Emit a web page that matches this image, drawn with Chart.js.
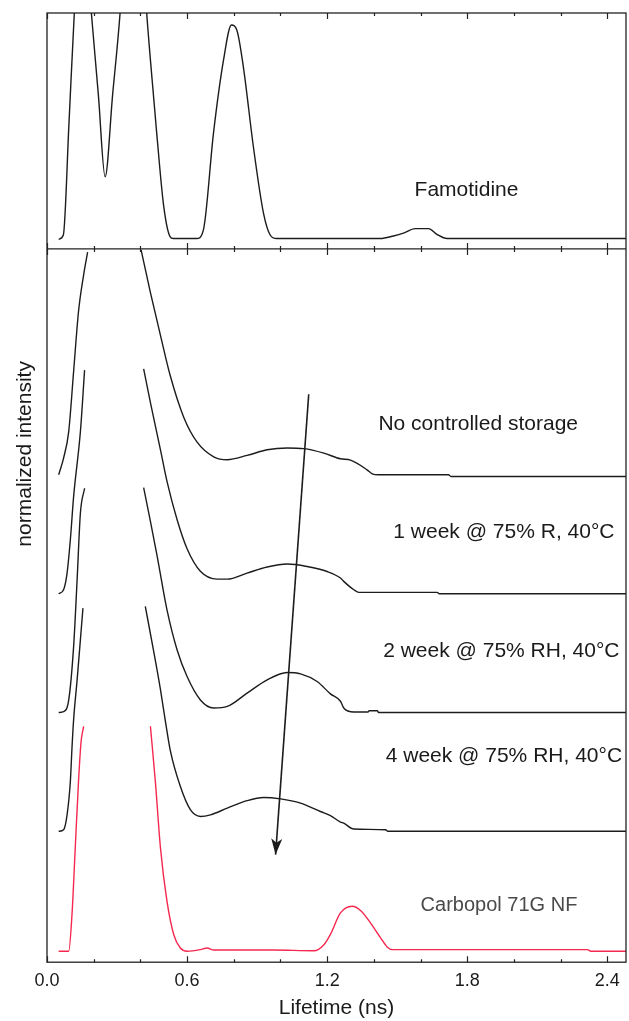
<!DOCTYPE html>
<html>
<head>
<meta charset="utf-8">
<title>Positron lifetime distributions</title>
<script src="https://cdn.jsdelivr.net/npm/chart.js@4.4.1/dist/chart.umd.min.js"></script>
<style>
  html, body { margin: 0; padding: 0; background: #fff; }
  canvas { display: block; }
</style>
</head>
<body>
<canvas id="lifetimeChart" width="629" height="1021"></canvas>
<script>
// lifetime axis (ns)
const lifetimeTicks = [0.0, 0.6, 1.2, 1.8, 2.4];
const minorTicks = [0.2, 0.4, 0.8, 1.0, 1.4, 1.6, 2.0, 2.2];

// top panel: Famotidine (peaks run past the frame)
const famLifetime = [0.05, 0.07, 0.094, 0.117, 0.15, 0.19, 0.22, 0.249, 0.281, 0.313, 0.37, 0.427, 0.45, 0.47, 0.50, 0.527, 0.541, 0.641, 0.67, 0.713, 0.756, 0.79, 0.813, 0.841, 0.884, 0.927, 0.956, 0.984, 1.427, 1.484, 1.527, 1.577, 1.634, 1.67, 1.713, 2.48];
const famIntensity = [0.041, 0.059, 0.53, 1.0, 1.5, 1.0, 0.653, 0.306, 0.653, 1.0, 1.9, 1.0, 0.72, 0.49, 0.18, 0.052, 0.044, 0.044, 0.081, 0.49, 0.80, 0.949, 0.928, 0.772, 0.433, 0.153, 0.059, 0.044, 0.044, 0.055, 0.067, 0.086, 0.086, 0.062, 0.044, 0.044];

// bottom panel, each curve relative to its own baseline (cut where it leaves the band)
const noStorageLifetime = [0.05, 0.071, 0.093, 0.114, 0.135, 0.157, 0.174, 0.29, 0.403, 0.443, 0.486, 0.528, 0.586, 0.643, 0.714, 0.772, 0.857, 0.943, 1.029, 1.10, 1.186, 1.257, 1.30, 1.371, 1.393, 1.42, 1.72, 1.73, 2.48];
const noStorageIntensity = [0, 0.074, 0.192, 0.459, 0.726, 0.889, 0.99, null, 1.0, 0.81, 0.62, 0.44, 0.255, 0.145, 0.08, 0.067, 0.086, 0.111, 0.119, 0.116, 0.096, 0.071, 0.065, 0.022, 0.004, 0, 0, -0.008, -0.008];

const week1Lifetime = [0.05, 0.071, 0.086, 0.10, 0.114, 0.143, 0.161, 0.29, 0.414, 0.443, 0.486, 0.514, 0.557, 0.60, 0.657, 0.729, 0.772, 0.857, 0.943, 1.029, 1.114, 1.20, 1.257, 1.271, 1.314, 1.336, 1.671, 1.68, 2.48];
const week1Intensity = [0, 0.018, 0.092, 0.24, 0.432, 0.72, 0.994, null, 1.0, 0.85, 0.64, 0.50, 0.33, 0.20, 0.10, 0.065, 0.065, 0.092, 0.119, 0.132, 0.121, 0.099, 0.07, 0.055, 0.018, 0.006, 0.006, 0, 0];

const week2Lifetime = [0.05, 0.071, 0.093, 0.114, 0.129, 0.143, 0.161, 0.29, 0.414, 0.443, 0.471, 0.514, 0.557, 0.60, 0.657, 0.714, 0.772, 0.857, 0.943, 1.029, 1.086, 1.157, 1.214, 1.257, 1.271, 1.314, 1.375, 1.38, 1.415, 1.42, 2.48];
const week2Intensity = [0, 0.004, 0.056, 0.293, 0.59, 0.886, 0.997, null, 1.0, 0.85, 0.70, 0.456, 0.279, 0.16, 0.056, 0.02, 0.027, 0.086, 0.145, 0.178, 0.172, 0.138, 0.083, 0.05, 0.02, 0.002, 0.002, 0.008, 0.008, 0, 0];

const week4Lifetime = [0.05, 0.071, 0.086, 0.10, 0.107, 0.114, 0.129, 0.143, 0.154, 0.29, 0.421, 0.457, 0.486, 0.507, 0.528, 0.571, 0.614, 0.657, 0.70, 0.772, 0.857, 0.928, 1.0, 1.086, 1.171, 1.214, 1.257, 1.271, 1.314, 1.45, 1.46, 2.48];
const week4Intensity = [0, 0.007, 0.073, 0.221, 0.37, 0.496, 0.673, 0.851, 0.992, null, 1.0, 0.80, 0.63, 0.49, 0.36, 0.20, 0.096, 0.066, 0.073, 0.103, 0.136, 0.15, 0.144, 0.125, 0.088, 0.07, 0.041, 0.036, 0.01, 0.007, 0, 0];

const carbopolLifetime = [0.05, 0.093, 0.107, 0.121, 0.135, 0.146, 0.157, 0.30, 0.443, 0.464, 0.486, 0.514, 0.543, 0.571, 0.60, 0.657, 0.686, 0.714, 0.97, 1.143, 1.186, 1.214, 1.257, 1.307, 1.343, 1.386, 1.429, 1.457, 1.479, 2.314, 2.33, 2.48];
const carbopolIntensity = [0, 0, 0.162, 0.459, 0.755, 0.932, 0.999, null, 1.0, 0.755, 0.459, 0.221, 0.073, 0.014, 0, 0.007, 0.014, 0.005, 0.005, 0.002, 0.029, 0.075, 0.17, 0.2, 0.181, 0.125, 0.059, 0.019, 0.007, 0.007, 0, 0];

// vertical offsets of the stacked curves in the bottom panel
const stackOffsets = [2.167, 1.638, 1.11, 0.582, 0.049];

// trend arrow (lifetime, stacked level)
const arrowLifetime = [1.121, 0.979];
const arrowLevel = [2.525, 0.478];

const FONT = '"Liberation Sans", Arial, sans-serif';
const INK = '#1c1c1c';
const RED = '#f4284e';

function toPoints(lifetime, intensity, offset) {
  return lifetime.map((t, i) => ({x: t, y: intensity[i] === null ? null : intensity[i] + offset}));
}

const curve = (label, data, axis, color) => ({
  label, data, yAxisID: axis, borderColor: color, borderWidth: 1.4,
  cubicInterpolationMode: 'monotone', spanGaps: false, pointRadius: 0
});

const datasets = [
  curve('Famotidine', toPoints(famLifetime, famIntensity, 0), 'yTop', INK),
  curve('No controlled storage', toPoints(noStorageLifetime, noStorageIntensity, stackOffsets[0]), 'yBot', INK),
  curve('1 week', toPoints(week1Lifetime, week1Intensity, stackOffsets[1]), 'yBot', INK),
  curve('2 week', toPoints(week2Lifetime, week2Intensity, stackOffsets[2]), 'yBot', INK),
  curve('4 week', toPoints(week4Lifetime, week4Intensity, stackOffsets[3]), 'yBot', INK),
  curve('Carbopol 71G NF', toPoints(carbopolLifetime, carbopolIntensity, stackOffsets[4]), 'yBot', RED),
  {label: 'arrow', data: toPoints(arrowLifetime, arrowLevel, 0), yAxisID: 'yBot', borderColor: INK,
   borderWidth: 1.6, tension: 0, pointRadius: 0}
];

// text placed in data coordinates
const panelLabels = [
  {text: 'Famotidine', axis: 'yTop', x: 1.797, y: 0.225},
  {text: 'No controlled storage', axis: 'yBot', x: 1.847, y: 2.367},
  {text: '1 week @ 75% R, 40°C', axis: 'yBot', x: 1.957, y: 1.884},
  {text: '2 week @ 75% RH, 40°C', axis: 'yBot', x: 1.946, y: 1.359},
  {text: '4 week @ 75% RH, 40°C', axis: 'yBot', x: 1.957, y: 0.892},
  {text: 'Carbopol 71G NF', axis: 'yBot', x: 1.936, y: 0.229, size: 20, color: '#4a4a4a'}
];

const framePlugin = {
  id: 'framePlugin',
  afterDraw(chart) {
    const {ctx, chartArea: a, scales} = chart;
    const x = scales.x;
    const split = scales.yTop.bottom;
    ctx.save();
    ctx.strokeStyle = '#222';
    ctx.lineWidth = 1.3;
    ctx.strokeRect(a.left, a.top, a.right - a.left, a.bottom - a.top);
    ctx.beginPath();
    ctx.moveTo(a.left, split);
    ctx.lineTo(a.right, split);
    ctx.stroke();
    const mark = (v, len) => {
      const px = Math.round(x.getPixelForValue(v)) + 0.5;
      ctx.moveTo(px, a.top); ctx.lineTo(px, a.top + len);
      ctx.moveTo(px, split - len); ctx.lineTo(px, split + len);
      ctx.moveTo(px, a.bottom); ctx.lineTo(px, a.bottom - len);
    };
    ctx.beginPath();
    ctx.lineWidth = 1.2;
    lifetimeTicks.forEach(v => mark(v, 6));
    minorTicks.forEach(v => mark(v, 3));
    ctx.stroke();
    ctx.restore();
  }
};

const textPlugin = {
  id: 'textPlugin',
  afterDraw(chart) {
    const {ctx, scales, chartArea} = chart;
    ctx.save();
    ctx.textAlign = 'center';
    ctx.textBaseline = 'alphabetic';
    panelLabels.forEach(l => {
      ctx.fillStyle = l.color || '#1a1a1a';
      ctx.font = (l.size || 21) + 'px ' + FONT;
      ctx.fillText(l.text, scales.x.getPixelForValue(l.x), scales[l.axis].getPixelForValue(l.y));
    });
    // y-axis title
    ctx.translate(chartArea.left - 22, scales.yBot.getPixelForValue(2.26));
    ctx.rotate(-Math.PI / 2);
    ctx.textBaseline = 'middle';
    ctx.fillStyle = '#1a1a1a';
    ctx.font = '21px ' + FONT;
    ctx.fillText('normalized intensity', 0, 0);
    ctx.restore();
  }
};

const arrowPlugin = {
  id: 'arrowPlugin',
  afterDatasetsDraw(chart) {
    const meta = chart.getDatasetMeta(datasets.length - 1);
    const [p0, p1] = meta.data;
    const ang = Math.atan2(p1.y - p0.y, p1.x - p0.x);
    const ctx = chart.ctx;
    ctx.save();
    ctx.translate(p1.x, p1.y);
    ctx.rotate(ang);
    ctx.fillStyle = INK;
    ctx.beginPath();
    ctx.moveTo(0, 0);
    ctx.lineTo(-16, -5.5);
    ctx.lineTo(-12, 0);
    ctx.lineTo(-16, 5.5);
    ctx.closePath();
    ctx.fill();
    ctx.restore();
  }
};

const config = {
  type: 'line',
  data: {datasets},
  options: {
    responsive: false,
    animation: false,
    devicePixelRatio: 1,
    layout: {padding: {left: 47, right: 3, top: 13, bottom: 0}},
    plugins: {legend: {display: false}, tooltip: {enabled: false}},
    scales: {
      x: {
        type: 'linear', min: 0, max: 2.48,
        grid: {display: false, drawTicks: false, tickLength: 0},
        border: {display: false},
        afterBuildTicks: s => { s.ticks = lifetimeTicks.map(v => ({value: v})); },
        ticks: {padding: 8.5, color: '#1a1a1a', font: {family: FONT, size: 18},
                maxRotation: 0, autoSkip: false, callback: v => Number(v).toFixed(1)},
        title: {display: true, text: 'Lifetime (ns)', color: '#1a1a1a',
                font: {family: FONT, size: 21}, padding: {top: -5, bottom: 0}}
      },
      yBot: {type: 'linear', position: 'left', stack: 'panels', stackWeight: 713.5, min: 0, max: 3.171, display: false},
      yTop: {type: 'linear', position: 'left', stack: 'panels', stackWeight: 236, min: 0, max: 1, display: false}
    }
  },
  plugins: [framePlugin, arrowPlugin, textPlugin]
};

var lifetimeChart = new Chart(document.getElementById('lifetimeChart'), config);
</script>
</body>
</html>
